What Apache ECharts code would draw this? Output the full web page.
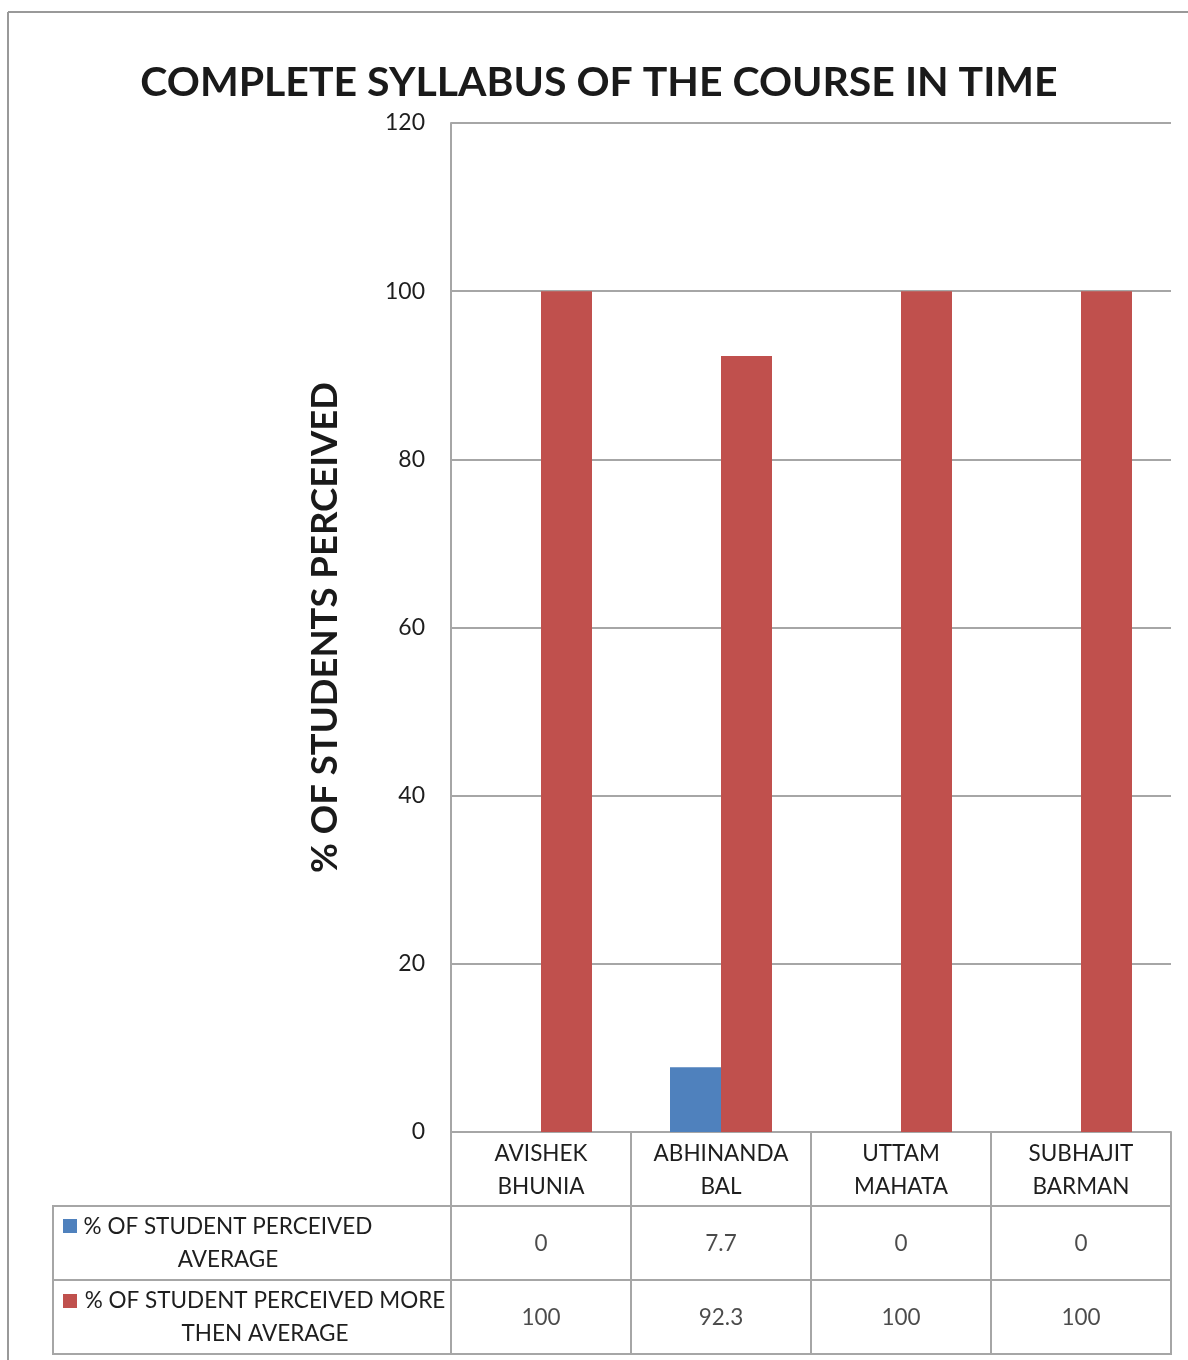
<!DOCTYPE html>
<html><head><meta charset="utf-8">
<script src="https://cdn.jsdelivr.net/npm/echarts@6/dist/echarts.min.js"></script>
<style>html,body{margin:0;padding:0;background:#fff}#c{width:1188px;height:1360px}</style>
</head><body><div id="c"></div>
<script>
var titleText = 'COMPLETE SYLLABUS OF THE COURSE IN TIME';
var yAxisName = '% OF STUDENTS PERCEIVED';
var categories = ['AVISHEK\nBHUNIA', 'ABHINANDA\nBAL', 'UTTAM\nMAHATA', 'SUBHAJIT\nBARMAN'];
var seriesNames = ['% OF STUDENT PERCEIVED\nAVERAGE', '% OF STUDENT PERCEIVED MORE\nTHEN AVERAGE'];
var avgValues = [0, 7.7, 0, 0];
var moreValues = [100, 92.3, 100, 100];
var colors = ['#4F81BD', '#C0504D'];
var yMin = 0, yMax = 120, yStep = 20;

var FONT = 'Lato';
var GRID = '#a6a6a6';
var TXT = '#1e1e1e';
var chart = echarts.init(document.getElementById('c'), null, {renderer: 'canvas'});

function tableGrid(top) {
  return {left: 451, top: top, width: 720, height: 74, show: true, borderColor: GRID, borderWidth: 2, backgroundColor: 'transparent'};
}
function tableX(gi) {
  return {type: 'category', gridIndex: gi, data: categories, boundaryGap: true,
    axisLine: {show: false}, axisTick: {show: false}, axisLabel: {show: false},
    splitLine: {show: true, lineStyle: {color: GRID, width: 2}}};
}
function tableY(gi) {
  return {type: 'value', gridIndex: gi, min: -1, max: 1, show: false};
}
function tableSeries(gi, vals) {
  return {type: 'scatter', xAxisIndex: gi, yAxisIndex: gi, symbolSize: 0, silent: true,
    data: vals.map(function (v, i) { return [i, 0]; }),
    label: {show: true, position: 'inside', fontFamily: FONT, fontSize: 22.5, color: TXT, offset: [0, 1],
      formatter: function (p) { return String(vals[p.dataIndex]); }}};
}

var option = {
  animation: false,
  backgroundColor: '#fff',
  title: {text: titleText, left: 594, top: 57, textAlign: 'center',
    textStyle: {fontFamily: FONT, fontWeight: 'bold', fontSize: 41, color: '#1a1a1a'}},
  grid: [
    {left: 451, top: 123, width: 720, height: 1009},
    tableGrid(1206),
    tableGrid(1280)
  ],
  xAxis: [
    {type: 'category', gridIndex: 0, data: categories, boundaryGap: true,
      axisLine: {show: true, lineStyle: {color: GRID, width: 2}},
      axisTick: {show: true, length: 74, lineStyle: {color: GRID, width: 2}},
      axisLabel: {fontFamily: FONT, fontSize: 22.5, color: TXT, lineHeight: 33, margin: 5, interval: 0},
      splitLine: {show: false}},
    tableX(1), tableX(2)
  ],
  yAxis: [
    {type: 'value', gridIndex: 0, min: yMin, max: yMax, interval: yStep,
      name: yAxisName, nameLocation: 'middle', nameGap: 107, nameRotate: 90,
      nameTextStyle: {fontFamily: FONT, fontWeight: 'bold', fontSize: 36.5, color: '#1a1a1a'},
      axisLine: {show: true, lineStyle: {color: GRID, width: 2}},
      axisTick: {show: false},
      axisLabel: {fontFamily: FONT, fontSize: 23, color: TXT, margin: 26},
      splitLine: {show: true, lineStyle: {color: GRID, width: 2}}},
    tableY(1), tableY(2)
  ],
  series: [
    {name: seriesNames[0], type: 'bar', xAxisIndex: 0, yAxisIndex: 0, data: avgValues,
      barWidth: 51, barGap: '0%', itemStyle: {color: colors[0]}},
    {name: seriesNames[1], type: 'bar', xAxisIndex: 0, yAxisIndex: 0, data: moreValues,
      barWidth: 51, barGap: '0%', itemStyle: {color: colors[1]}},
    tableSeries(1, avgValues),
    tableSeries(2, moreValues)
  ],
  graphic: [
    {type: 'line', shape: {x1: 8, y1: 12, x2: 1188, y2: 12}, style: {stroke: '#999', lineWidth: 2}},
    {type: 'line', shape: {x1: 8, y1: 12, x2: 8, y2: 1360}, style: {stroke: '#999', lineWidth: 2}},
    {type: 'rect', shape: {x: 53, y: 1206, width: 398, height: 148}, style: {fill: 'none', stroke: GRID, lineWidth: 2}},
    {type: 'line', shape: {x1: 53, y1: 1280, x2: 451, y2: 1280}, style: {stroke: GRID, lineWidth: 2}},
    {type: 'rect', shape: {x: 63, y: 1219, width: 14, height: 14}, style: {fill: colors[0]}},
    {type: 'rect', shape: {x: 63, y: 1294, width: 14, height: 14}, style: {fill: colors[1]}},
    {type: 'text', x: 228, y: 1243, style: {text: seriesNames[0], fontFamily: FONT, fontSize: 22.5, fill: TXT,
      align: 'center', verticalAlign: 'middle', lineHeight: 33}},
    {type: 'text', x: 265, y: 1317, style: {text: seriesNames[1], fontFamily: FONT, fontSize: 22.5, fill: TXT,
      align: 'center', verticalAlign: 'middle', lineHeight: 33}}
  ]
};
chart.setOption(option);
</script></body></html>
